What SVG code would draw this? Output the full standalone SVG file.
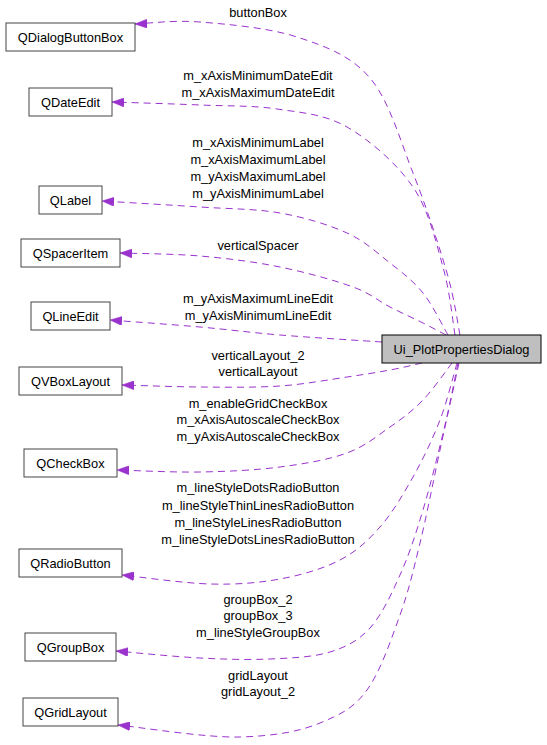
<svg xmlns="http://www.w3.org/2000/svg" width="547" height="745" viewBox="0 0 547 745">
<style>
text{font-family:"Liberation Sans",Arial,sans-serif;font-size:12.8px;fill:#000;text-anchor:middle}
.n rect{fill:#fff;stroke:#444;stroke-width:1}
.m rect{fill:#bfbfbf;stroke:#000;stroke-width:1}
.e{fill:none;stroke:#9a32cd;stroke-width:1;stroke-dasharray:7,5;marker-end:url(#ah)}
</style>
<defs>
<marker id="ah" markerUnits="userSpaceOnUse" viewBox="0 0 12 9" markerWidth="12" markerHeight="9" refX="12" refY="4.5" orient="auto">
<path d="M0,0 L12,4.5 L0,9 Z" fill="#9a32cd" stroke="#9a32cd" stroke-width="0.5"/>
</marker>
</defs>
<rect width="547" height="745" fill="#fff"/>
<g id="connectors">
<path class="e" d="M460,335 C457.8,324.7 454.8,300 447,273 C439.2,246 425.8,205.5 413,173 C400.2,140.5 389.3,100.7 370,78 C350.7,55.3 325.3,46.3 297,37 C268.7,27.7 227,24.2 200,22 C173,19.8 145.8,23.7 135,24"/>
<path class="e" d="M455,335 C453,323.7 450,291.7 443,267 C436,242.3 429,210.3 413,187 C397,163.7 369.7,140 347,127 C324.3,114 301.5,112.7 277,109 C252.5,105.3 227.5,106.2 200,105 C172.5,103.8 126.7,102.5 112,102"/>
<path class="e" d="M448,335 C443.8,328 432.7,305 423,293 C413.3,281 402.7,273 390,263 C377.3,253 365.3,241.3 347,233 C328.7,224.7 304.5,217.3 280,213 C255.5,208.7 229.7,209 200,207 C170.3,205 118.3,202 102,201"/>
<path class="e" d="M446,335 C442.2,333 432.3,327.7 423,323 C413.7,318.3 401.7,313 390,307 C378.3,301 371.3,293.7 353,287 C334.7,280.3 305.5,272.2 280,267 C254.5,261.8 226.7,258.3 200,256 C173.3,253.7 133.3,253.5 120,253"/>
<path class="e" d="M382,342 C365,340.8 310.3,337.5 280,335 C249.7,332.5 228.3,329.5 200,327 C171.7,324.5 125,321.2 110,320"/>
<path class="e" d="M422,363 C416.7,364.2 402.5,367.7 390,370 C377.5,372.3 365.3,374.3 347,377 C328.7,379.7 304.5,384.3 280,386 C255.5,387.7 226.3,387.2 200,387 C173.7,386.8 135,385.3 122,385"/>
<path class="e" d="M452,363 C447.2,369.2 433.3,389.3 423,400 C412.7,410.7 402.7,418.2 390,427 C377.3,435.8 365.3,446.3 347,453 C328.7,459.7 304.5,463.8 280,467 C255.5,470.2 227.2,471.5 200,472 C172.8,472.5 130.8,470.3 117,470"/>
<path class="e" d="M457,363 C454.2,372.5 447.3,401 440,420 C432.7,439 423,459.2 413,477 C403,494.8 392.2,513.2 380,527 C367.8,540.8 356.7,551.3 340,560 C323.3,568.7 301.7,575 280,579 C258.3,583 236.3,584.7 210,584 C183.7,583.3 136.7,576.5 122,575"/>
<path class="e" d="M458,363 C455.8,373.3 450.8,400.5 445,425 C439.2,449.5 430.5,485 423,510 C415.5,535 408.8,555.3 400,575 C391.2,594.7 381.7,615.2 370,628 C358.3,640.8 346.7,646.8 330,652 C313.3,657.2 291.7,658 270,659 C248.3,660 225.7,659.3 200,658 C174.3,656.7 130,652.2 116,651"/>
<path class="e" d="M459,363 C455.8,377.5 446.5,420 440,450 C433.5,480 426.7,515.5 420,543 C413.3,570.5 408.8,590.5 400,615 C391.2,639.5 380.3,671.8 367,690 C353.7,708.2 341.2,714.2 320,723 C298.8,731.8 273.7,736 240,737 C206.3,738 138.3,727 118,725"/>
</g>
<g id="edge-labels">
<text x="258" y="17">buttonBox</text>
<text x="258" y="80">m_xAxisMinimumDateEdit</text>
<text x="258" y="97">m_xAxisMaximumDateEdit</text>
<text x="258" y="147">m_xAxisMinimumLabel</text>
<text x="258" y="164">m_xAxisMaximumLabel</text>
<text x="258" y="181">m_yAxisMaximumLabel</text>
<text x="258" y="198">m_yAxisMinimumLabel</text>
<text x="258" y="249.5">verticalSpacer</text>
<text x="258" y="303">m_yAxisMaximumLineEdit</text>
<text x="258" y="319.5">m_yAxisMinimumLineEdit</text>
<text x="258" y="359.5">verticalLayout_2</text>
<text x="258" y="376">verticalLayout</text>
<text x="258" y="407.5">m_enableGridCheckBox</text>
<text x="258" y="424">m_xAxisAutoscaleCheckBox</text>
<text x="258" y="441">m_yAxisAutoscaleCheckBox</text>
<text x="258" y="492">m_lineStyleDotsRadioButton</text>
<text x="258" y="509.5">m_lineStyleThinLinesRadioButton</text>
<text x="258" y="527">m_lineStyleLinesRadioButton</text>
<text x="258" y="544">m_lineStyleDotsLinesRadioButton</text>
<text x="258" y="603.5">groupBox_2</text>
<text x="258" y="620">groupBox_3</text>
<text x="258" y="637">m_lineStyleGroupBox</text>
<text x="258" y="679.5">gridLayout</text>
<text x="258" y="696">gridLayout_2</text>
</g>
<g id="Ui_PlotPropertiesDialog" class="m"><rect x="382" y="335" width="159" height="28"/><text x="461.5" y="353.5">Ui_PlotPropertiesDialog</text></g>
<g id="QDialogButtonBox" class="n"><rect x="6" y="23" width="129" height="28"/><text x="70.5" y="41.5">QDialogButtonBox</text></g>
<g id="QDateEdit" class="n"><rect x="29" y="88" width="83" height="28"/><text x="70.5" y="106.5">QDateEdit</text></g>
<g id="QLabel" class="n"><rect x="39" y="186" width="63" height="28"/><text x="70.5" y="204.5">QLabel</text></g>
<g id="QSpacerItem" class="n"><rect x="21" y="239" width="99" height="28"/><text x="70.5" y="257.5">QSpacerItem</text></g>
<g id="QLineEdit" class="n"><rect x="31" y="302" width="79" height="28"/><text x="70.5" y="320.5">QLineEdit</text></g>
<g id="QVBoxLayout" class="n"><rect x="19" y="367" width="103" height="28"/><text x="70.5" y="385.5">QVBoxLayout</text></g>
<g id="QCheckBox" class="n"><rect x="24" y="449" width="93" height="28"/><text x="70.5" y="467.5">QCheckBox</text></g>
<g id="QRadioButton" class="n"><rect x="19" y="549" width="103" height="28"/><text x="70.5" y="567.5">QRadioButton</text></g>
<g id="QGroupBox" class="n"><rect x="25" y="633" width="91" height="28"/><text x="70.5" y="651.5">QGroupBox</text></g>
<g id="QGridLayout" class="n"><rect x="23" y="698" width="95" height="28"/><text x="70.5" y="716.5">QGridLayout</text></g>
</svg>
